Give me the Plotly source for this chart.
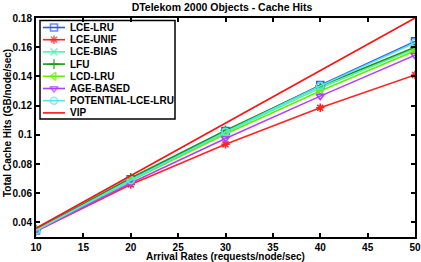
import plotly.graph_objects as go

rates = [10, 20, 30, 40, 50]
lce_lru = [0.0345, 0.0695, 0.1025, 0.1340, 0.1640]
lce_unif = [0.0340, 0.0660, 0.0935, 0.1185, 0.1410]
lce_bias = [0.0345, 0.0690, 0.1015, 0.1320, 0.1590]
lfu = [0.0350, 0.0705, 0.1030, 0.1335, 0.1600]
lcd_lru = [0.0345, 0.0685, 0.1005, 0.1300, 0.1575]
age_based = [0.0340, 0.0670, 0.0975, 0.1265, 0.1545]
potential = [0.0345, 0.0690, 0.1020, 0.1335, 0.1630]
vip = [0.036, 0.072, 0.108, 0.144, 0.180]

x_ticks = [10, 15, 20, 25, 30, 35, 40, 45, 50]
y_ticks = [0.04, 0.06, 0.08, 0.1, 0.12, 0.14, 0.16, 0.18]
y_tick_text = ["0.04", "0.06", "0.08", "0.1", "0.12", "0.14", "0.16", "0.18"]

series = [
    ("LCE-LRU", lce_lru, "#3355ee", "square-open"),
    ("LCE-UNIF", lce_unif, "#ff2222", "asterisk-open"),
    ("LCE-BIAS", lce_bias, "#55f0b0", "x-thin-open"),
    ("LFU", lfu, "#119911", "cross-thin-open"),
    ("LCD-LRU", lcd_lru, "#66ee00", "triangle-left-open"),
    ("AGE-BASED", age_based, "#b040ff", "triangle-down-open"),
    ("POTENTIAL-LCE-LRU", potential, "#55e5e5", "circle-open"),
    ("VIP", vip, "#ff1111", None),
]

FONT = "Liberation Sans"
BF = dict(family=FONT, size=10, color="black", weight="bold")

W, H = 421, 262
ML, MR, MT, MB = 36, 6, 18, 25
PW, PH = W - ML - MR, H - MT - MB

fig = go.Figure()
for name, vals, col, sym in series:
    if sym:
        fig.add_trace(go.Scatter(
            x=rates, y=vals, name=name, mode="lines+markers", showlegend=False,
            line=dict(color=col, width=1.6),
            marker=dict(symbol=sym, size=7, color=col, line=dict(color=col, width=1.6)),
        ))
    else:
        fig.add_trace(go.Scatter(x=rates, y=vals, name=name, mode="lines", showlegend=False,
                                 line=dict(color=col, width=1.6)))

# custom compact legend on an overlay axis measured in page pixels
leg_top, leg_step = 27.5, 12.2
annotations = []
for i, (name, vals, col, sym) in enumerate(series):
    yy = leg_top + i * leg_step
    if sym:
        fig.add_trace(go.Scatter(
            x=[43, 54, 65], y=[yy, yy, yy], xaxis="x2", yaxis="y2", mode="lines+markers",
            showlegend=False, hoverinfo="skip",
            line=dict(color=col, width=1.6),
            marker=dict(symbol=sym, size=[0, 7, 0], color=col, line=dict(color=col, width=1.6)),
        ))
    else:
        fig.add_trace(go.Scatter(
            x=[43, 65], y=[yy, yy], xaxis="x2", yaxis="y2", mode="lines",
            showlegend=False, hoverinfo="skip", line=dict(color=col, width=1.6)))
    annotations.append(dict(text=name, x=68, y=yy, xref="x2", yref="y2",
                            xanchor="left", yanchor="middle", showarrow=False, font=BF))

def px_x(p):
    return (p - ML) / PW

def px_y(p):
    return (H - MB - p) / PH

annotations.append(dict(text="Arrival Rates (requests/node/sec)", x=px_x(225.5), y=px_y(256.5),
                        xref="paper", yref="paper", xanchor="center", yanchor="middle",
                        showarrow=False, font=BF))
annotations.append(dict(text="Total Cache Hits (GB/node/sec)", x=px_x(7), y=px_y(123),
                        xref="paper", yref="paper", xanchor="center", yanchor="middle",
                        textangle=-90, showarrow=False, font=BF))

axis_common = dict(showline=True, linecolor="black", linewidth=2, mirror="ticks",
                   ticks="inside", ticklen=4, tickcolor="black", tickwidth=1.5,
                   showgrid=False, zeroline=False, automargin=False, tickfont=BF)

fig.update_layout(
    width=W, height=H,
    margin=dict(l=ML, r=MR, t=MT, b=MB),
    paper_bgcolor="white", plot_bgcolor="white",
    showlegend=False,
    title=dict(text="DTelekom 2000 Objects - Cache Hits", x=222 / W, xanchor="center",
               y=1 - 7 / H, yanchor="middle", automargin=False,
               font=dict(family=FONT, size=10.5, color="black", weight="bold")),
    xaxis=dict(range=[10, 50], tickvals=x_ticks, **axis_common),
    yaxis=dict(range=[0.03, 0.18], tickvals=y_ticks, ticktext=y_tick_text, **axis_common),
    xaxis2=dict(overlaying="x", range=[ML, W - MR], visible=False, anchor="y2"),
    yaxis2=dict(overlaying="y", range=[H - MB, MT], visible=False, anchor="x2"),
    shapes=[dict(type="rect", xref="x2", yref="y2", x0=40, x1=175, y0=20.5, y1=119,
                 line=dict(color="black", width=1.5), fillcolor="white", layer="below")],
    annotations=annotations,
)

fig.write_html("out.html", config={"displayModeBar": False},
               post_script="document.body.style.margin='0';")
